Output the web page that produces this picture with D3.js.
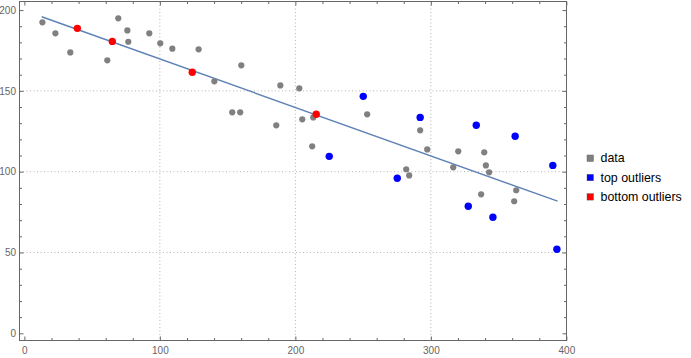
<!DOCTYPE html>
<html><head><meta charset="utf-8">
<script src="https://cdn.jsdelivr.net/npm/d3@7"></script>
<style>body{margin:0;background:#fff}svg{display:block}text{font-family:"Liberation Sans",Arial,sans-serif}</style>
</head><body>
<svg id="c" width="691" height="358"></svg>
<script>
const dataX = [13.3,22.9,33.9,61.2,69.3,76.0,76.7,92.2,100.3,109.2,128.6,140.2,153.4,159.3,160.1,188.9,202.9,185.9,205.1,213.2,212.4,253.0,292.1,297.3,320.2,339.4,316.5,340.6,343.0,281.8,284.0,361.5,363.0,337.1];
const dataY = [192.4,185.6,173.8,168.9,194.9,187.4,180.4,185.6,179.4,176.1,175.7,155.9,136.7,136.7,165.8,153.4,151.6,128.7,132.4,133.6,115.7,135.5,125.6,113.8,112.6,112.0,102.7,103.9,99.6,101.5,97.7,81.7,88.5,86.0];
const topX = [250.1,225.0,292.1,333.5,362.2,390.0,275.2,327.6,345.8,393.0];
const topY = [146.6,109.5,133.6,128.7,121.9,103.9,95.9,78.6,71.8,52.0];
const bottomX = [39.1,64.9,123.9,215.4];
const bottomY = [188.7,180.6,161.5,135.5];
const fitLine = [199.7, -0.2997]; // intercept, slope
const fitRange = [12.8, 393.5];
const xTicks = [0,100,200,300,400];
const yTicks = [0,50,100,150,200];
const legendLabels = ["data","top outliers","bottom outliers"];
const legendColors = ["#808080","#0000ff","#ff0000"];

const svg = d3.select("#c");
const L=19.5,R=566.5,T=1.5,B=340.5;
const x = d3.scaleLinear().domain([-3.6,400.1]).range([L,R]);
const y = d3.scaleLinear().domain([-4.45,205.3]).range([B,T]);
const axisCol="#666";

// grid
const g = svg.append("g");
[100,200,300].forEach(v=>g.append("line").attr("x1",x(v)).attr("x2",x(v)).attr("y1",T).attr("y2",B)
  .attr("stroke","#b4b4b4").attr("stroke-width",1).attr("stroke-dasharray","1,2.5"));
[50,100,150].forEach(v=>g.append("line").attr("y1",y(v)).attr("y2",y(v)).attr("x1",L).attr("x2",R)
  .attr("stroke","#b4b4b4").attr("stroke-width",1).attr("stroke-dasharray","1,2.5"));

// axes with inward ticks
const xMinor = d3.range(0,401,20).filter(v=>v%100!==0);
const yMinor = d3.range(0,201,10).filter(v=>v%50!==0);
function styleAxis(sel){sel.select(".domain").remove();sel.selectAll("line").attr("stroke",axisCol);sel.selectAll("text").attr("fill",axisCol).attr("font-size","10px");}
svg.append("g").attr("transform",`translate(0,${B})`).call(d3.axisBottom(x).tickValues(xTicks).tickSize(-4).tickPadding(6)).call(styleAxis);
svg.append("g").attr("transform",`translate(0,${B})`).call(d3.axisBottom(x).tickValues(xMinor).tickSize(-2.5).tickFormat("")).call(styleAxis);
svg.append("g").attr("transform",`translate(0,${T})`).call(d3.axisTop(x).tickValues(xTicks).tickSize(-4).tickFormat("")).call(styleAxis);
svg.append("g").attr("transform",`translate(0,${T})`).call(d3.axisTop(x).tickValues(xMinor).tickSize(-2.5).tickFormat("")).call(styleAxis);
svg.append("g").attr("transform",`translate(${L},0)`).call(d3.axisLeft(y).tickValues(yTicks).tickSize(-4).tickPadding(3.5)).call(styleAxis);
svg.append("g").attr("transform",`translate(${L},0)`).call(d3.axisLeft(y).tickValues(yMinor).tickSize(-2.5).tickFormat("")).call(styleAxis);
svg.append("g").attr("transform",`translate(${R},0)`).call(d3.axisRight(y).tickValues(yTicks).tickSize(-4).tickFormat("")).call(styleAxis);
svg.append("g").attr("transform",`translate(${R},0)`).call(d3.axisRight(y).tickValues(yMinor).tickSize(-2.5).tickFormat("")).call(styleAxis);
svg.append("rect").attr("x",L).attr("y",T).attr("width",R-L).attr("height",B-T).attr("fill","none").attr("stroke",axisCol).attr("stroke-width",1);

// fit line
svg.append("line").attr("x1",x(fitRange[0])).attr("y1",y(fitLine[0]+fitLine[1]*fitRange[0]))
  .attr("x2",x(fitRange[1])).attr("y2",y(fitLine[0]+fitLine[1]*fitRange[1]))
  .attr("stroke","#5e81b5").attr("stroke-width",1.4);

// points
function pts(xs,ys,col,r){svg.append("g").selectAll("circle").data(xs.map((v,i)=>[v,ys[i]])).join("circle")
  .attr("cx",d=>x(d[0])).attr("cy",d=>y(d[1])).attr("r",r).attr("fill",col);}
pts(dataX,dataY,"#808080",3.1);
pts(topX,topY,"#0000ff",3.7);
pts(bottomX,bottomY,"#ff0000",3.7);

// legend
const lg = svg.append("g");
legendLabels.forEach((t,i)=>{
  const cy = 158 + i*19.3;
  lg.append("rect").attr("x",587).attr("y",cy-3).attr("width",6.5).attr("height",6.5).attr("fill",legendColors[i])
    .attr("stroke","#555").attr("stroke-width",0.4);
  lg.append("text").attr("x",600.5).attr("y",cy+4.3).attr("font-size","12.4px").attr("fill","#000").text(t);
});
</script>
</body></html>
